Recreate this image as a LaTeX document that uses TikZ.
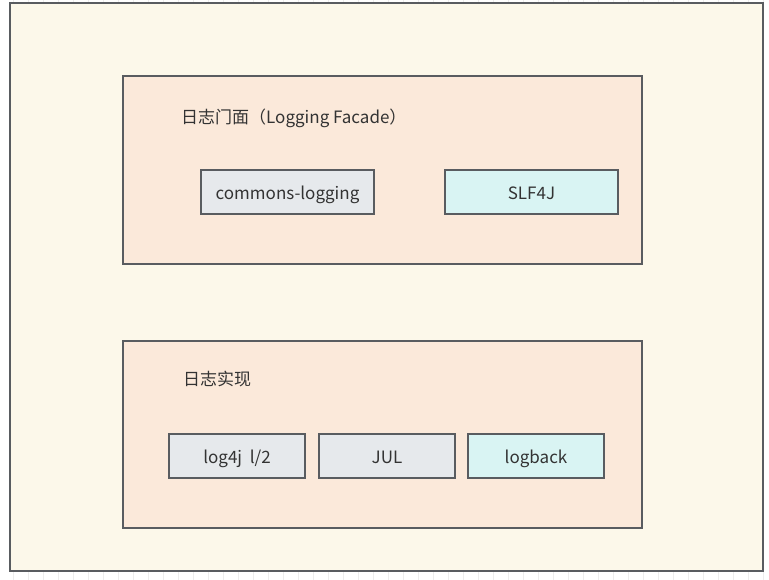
\documentclass[tikz,border=0pt]{standalone}
\usepackage{fontspec}
\setmainfont{Noto Sans CJK SC}
\usepackage{tikz}
\usetikzlibrary{positioning}

\definecolor{canvas}{HTML}{FCF8EA}
\definecolor{peach}{HTML}{FBE9DA}
\definecolor{greybox}{HTML}{E6E9EC}
\definecolor{cyanbox}{HTML}{D9F4F3}
\definecolor{edge}{HTML}{595C60}
\definecolor{gridgrey}{HTML}{EDEDED}
\definecolor{ink}{HTML}{333333}

\begin{document}
\begin{tikzpicture}[x=1pt, y=-1pt,
  outerbox/.style={draw=edge, line width=1.3pt, fill=canvas},
  groupbox/.style={draw=edge, line width=1.2pt, fill=peach},
  libbox/.style={draw=edge, line width=1.2pt, rectangle, outer sep=0pt,
    minimum height=44pt, text height=18pt, text depth=4pt,
    font=\fontsize{17}{20}\selectfont, text=ink},
  title/.style={anchor=west, inner sep=0pt, font=\fontsize{17}{20}\selectfont, text=ink}]

  \useasboundingbox (0,0) rectangle (769,579);

  %% faint grid behind everything
  \begin{scope}[shift={(-2,10)}]
    \draw[gridgrey, line width=0.6pt, step=15] (0,-15) grid (785,585);
  \end{scope}

  %% outer canvas
  \draw[outerbox] (10,3) rectangle (763,571);

  %% groups
  \draw[groupbox] (123,76) rectangle (642,264);
  \draw[groupbox] (123,341) rectangle (642,528);

  \node[title] (facade) at (181,118.5) {日志门面（Logging Facade）};
  \node[title] (impl) at (183,378.5) {日志实现};

  %% facades
  \node[libbox, fill=greybox, minimum width=173pt] (jcl) at (287.5,192) {commons-logging};
  \node[libbox, fill=cyanbox, minimum width=173pt, right=71pt of jcl] (slf) {SLF4J};

  %% implementations
  \node[libbox, fill=greybox, minimum width=136pt] (logj) at (237,456) {log4j\ \ l/2};
  \node[libbox, fill=greybox, minimum width=136pt, right=14pt of logj] (jul) {JUL};
  \node[libbox, fill=cyanbox, minimum width=136pt, right=13pt of jul] (lback) {logback};

\end{tikzpicture}
\end{document}
